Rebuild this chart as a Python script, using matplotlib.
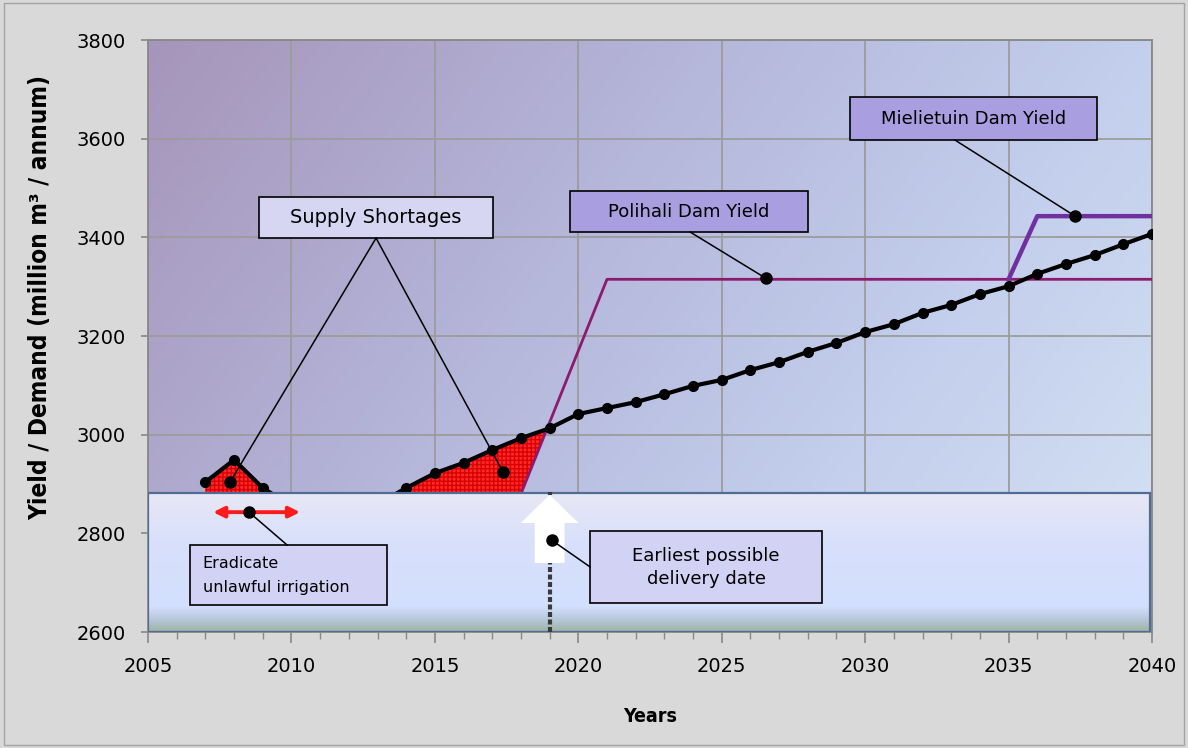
import numpy as np
import matplotlib
matplotlib.use("Agg")
import matplotlib.pyplot as plt
from matplotlib.patches import Rectangle, Polygon
from matplotlib.colors import LinearSegmentedColormap

# ── data ─────────────────────────────────────────────────────────
years = list(range(2007, 2041))
demand = [2904, 2949, 2892, 2856, 2860, 2866, 2859, 2892, 2922, 2943,
          2969, 2993, 3013, 3042, 3054, 3066, 3082, 3099, 3111, 3131,
          3147, 3168, 3186, 3208, 3224, 3247, 3263, 3285, 3301, 3326,
          3346, 3364, 3386, 3407]

polihali_years = [2007, 2018, 2021, 2040]
polihali_yield = [2880, 2880, 3315, 3315]

mielietuin_years = [2035, 2036, 2040]
mielietuin_yield = [3315, 3443, 3443]

x_ticks = [2005, 2010, 2015, 2020, 2025, 2030, 2035, 2040]
y_ticks = [2600, 2800, 3000, 3200, 3400, 3600, 3800]

BOX_TOP = 2882  # top of the lower "planning" panel

# ── figure ───────────────────────────────────────────────────────
fig = plt.figure(figsize=(11.88, 7.48), dpi=100, facecolor="#d9d9d9")
fig.patches.append(Rectangle((0.003, 0.004), 0.994, 0.992, transform=fig.transFigure,
                             fill=False, edgecolor="#a4a4a4", lw=1.0))
ax = fig.add_axes([0.1246, 0.155, 0.8451, 0.7915])
ax.set_xlim(2005, 2040)
ax.set_ylim(2600, 3800)

# diagonal gradient background
bg_cmap = LinearSegmentedColormap.from_list(
    "bg", [(0, "#a695ba"), (0.4, "#b5b7db"), (0.7, "#c3cfec"), (1, "#d6e2f4")])
u, v = np.meshgrid(np.linspace(0, 1, 300), np.linspace(0, 1, 200))
grad = 0.7 * u + 0.3 * v
ax.imshow(grad, cmap=bg_cmap, extent=[0, 1, 0, 1], transform=ax.transAxes,
          aspect="auto", origin="upper", zorder=0)

ax.set_xticks(x_ticks)
ax.set_yticks(y_ticks)
ax.set_xticks(range(2005, 2041), minor=True)
ax.grid(True, which="major", color="#9c9c9c", lw=1.3, zorder=1)
for s in ax.spines.values():
    s.set_color("#888888")
    s.set_linewidth(1.3)
ax.tick_params(axis="x", which="major", length=8, width=1.2, color="#888888",
               labelsize=14, pad=10)
ax.tick_params(axis="x", which="minor", length=5, width=1.0, color="#888888")
ax.tick_params(axis="y", length=5, width=1.2, color="#888888", labelsize=14, pad=11)

ax.set_xlabel("Years", fontsize=14, fontweight="bold", fontstretch="condensed",
              labelpad=22)
ax.set_ylabel("Yield / Demand (million m³ / annum)", fontsize=17.5, fontweight="bold",
              fontstretch="condensed")
ax.yaxis.set_label_coords(-0.0956, 0.565)

# shortage shading: demand above total available yield
xf = np.linspace(years[0], years[-1], 2000)
dem_f = np.interp(xf, years, demand)
yld_f = np.interp(xf, polihali_years, polihali_yield)
mie_f = np.interp(xf, mielietuin_years, mielietuin_yield, left=0)
yld_f = np.maximum(yld_f, mie_f)
ax.fill_between(xf, yld_f, dem_f, where=dem_f > yld_f, interpolate=True,
                facecolor="#ff2a2a", edgecolor="#d80000", hatch="++++",
                lw=0, zorder=2)

ax.plot(polihali_years, polihali_yield, color="#8c1a6e", lw=2, zorder=3)
ax.plot(mielietuin_years, mielietuin_yield, color="#7030a0", lw=3.2, zorder=3)
ax.plot(years, demand, color="black", lw=3, marker="o", markersize=7, zorder=4)

# lower panel
box_cmap = LinearSegmentedColormap.from_list(
    "box", [(0, "#e8e8f5"), (0.35, "#d8e0fb"), (0.82, "#d2dffe"), (0.9, "#bccbe0"), (1, "#9db3a4")])
bx = np.linspace(0, 1, 200).reshape(-1, 1)
ax.imshow(bx, cmap=box_cmap, extent=[2005, 2039.93, 2600, BOX_TOP],
          aspect="auto", origin="upper", zorder=5)
ax.add_patch(Rectangle((2005, 2600), 34.93, BOX_TOP - 2600, fill=False,
                       edgecolor="#4f6d95", lw=1.6, zorder=5))

# arrow marking earliest delivery date
ax.add_patch(Polygon([(2019.0, 2878), (2017.99, 2821), (2018.48, 2821), (2018.48, 2740),
                      (2019.52, 2740), (2019.52, 2821), (2020.01, 2821)],
                     closed=True, facecolor="white", edgecolor="none", zorder=6))
ax.plot([2019, 2019], [2600, 2740], color="#3a3a3a", lw=3, dashes=(1.2, 0.6), zorder=6)
ax.plot([2019, 2019], [2877, 2884], color="#3a3a3a", lw=3, dashes=(1.2, 0.6), zorder=6)

# double arrow for irrigation eradication
ax.annotate("", xy=(2007.27, 2843), xytext=(2010.3, 2843),
            arrowprops=dict(arrowstyle="<|-|>", color="#ff1a1a", lw=2.8,
                            mutation_scale=16, shrinkA=0, shrinkB=0), zorder=7)


def label_box(x0, x1, y0, y1, text, face, size, align="center"):
    ax.add_patch(Rectangle((x0, y0), x1 - x0, y1 - y0, facecolor=face,
                           edgecolor="black", lw=1.2, zorder=7))
    if align == "center":
        ax.text((x0 + x1) / 2, (y0 + y1) / 2, text, ha="center", va="center",
                fontsize=size, linespacing=1.35, zorder=8)
    else:
        ax.text(x0 + 0.45, (y0 + y1) / 2, text, ha="left", va="center",
                fontsize=size, linespacing=1.75, zorder=8)


def leader(start, end):
    ax.plot([start[0], end[0]], [start[1], end[1]], color="black", lw=1.1, zorder=8)
    ax.plot([end[0]], [end[1]], "o", color="black", markersize=8, zorder=9)


label_box(2008.87, 2017.03, 3398.6, 3481.7, "Supply Shortages", "#d6d6f2", 14)
leader((2012.95, 3398.6), (2007.86, 2904))
leader((2012.95, 3398.6), (2017.38, 2924))

label_box(2019.71, 2028.01, 3410.8, 3493.9, "Polihali Dam Yield", "#a99fe0", 13)
leader((2023.9, 3410.8), (2026.54, 3317))

label_box(2029.47, 2038.08, 3597.3, 3684.5, "Mielietuin Dam Yield", "#a99fe0", 13)
leader((2033.13, 3597.3), (2037.32, 3443))

label_box(2006.46, 2013.33, 2654.7, 2776.4, "Eradicate\nunlawful irrigation", "#d2d2f5", 11.5,
          align="left")
leader((2009.85, 2776.4), (2008.52, 2843))

label_box(2020.41, 2028.5, 2658.8, 2804.7, "Earliest possible\ndelivery date", "#d2d2f5", 13)
leader((2020.41, 2732), (2019.08, 2786))

fig.savefig("out.png", dpi=100, facecolor=fig.get_facecolor())
